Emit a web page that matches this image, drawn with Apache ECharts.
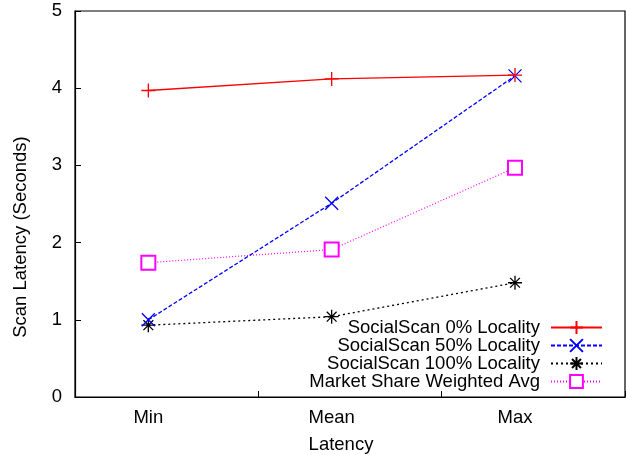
<!DOCTYPE html>
<html lang="en" style="height: 100%">
<head>
  <meta charset="utf-8">
</head>
<body style="height: 100%; margin: 0; background: #fff">
<div id="container" style="width: 626px; height: 455px"></div>

<script type="text/javascript" src="https://fastly.jsdelivr.net/npm/echarts@6/dist/echarts.min.js"></script>
<script type="text/javascript">
  // latency categories, placed at these x positions on a 0..3 axis
  var categories = ['Min', 'Mean', 'Max'];
  var xPositions = [0.4, 1.4, 2.4];

  var seriesNames = [
    'SocialScan 0% Locality',
    'SocialScan 50% Locality',
    'SocialScan 100% Locality',
    'Market Share Weighted Avg'
  ];
  var locality0 = [3.97, 4.12, 4.17];
  var locality50 = [1.0, 2.51, 4.16];
  var locality100 = [0.93, 1.04, 1.48];
  var marketAvg = [1.74, 1.91, 2.97];

  var yTicks = [0, 1, 2, 3, 4, 5];

  function pts(vals) {
    return vals.map(function (v, i) { return [xPositions[i], v]; });
  }

  var font = 'Liberation Sans, Arial, Helvetica, sans-serif';
  var fs = 18.5;

  var dom = document.getElementById('container');
  var myChart = echarts.init(dom, null, { renderer: 'canvas' });

  var option = {
    backgroundColor: '#fff',
    animation: false,
    grid: { left: 75, right: 1, top: 11, bottom: 58, outerBoundsMode: 'none' },
    legend: {
      orient: 'vertical',
      right: 18,
      top: 313,
      align: 'right',
      itemWidth: 51,
      itemHeight: 16,
      itemGap: -1,
      textStyle: { fontFamily: font, fontSize: fs, color: '#000', padding: [0, 6, 0, 0] },
      data: seriesNames
    },
    xAxis: {
      type: 'value',
      min: 0,
      max: 3,
      interval: 1,
      name: 'Latency',
      nameLocation: 'middle',
      nameGap: 38,
      nameTextStyle: { fontFamily: font, fontSize: fs, color: '#000', padding: [0, 18, 0, 0] },
      axisLine: { lineStyle: { color: '#000', width: 1.2 } },
      axisTick: { inside: true, length: 6, lineStyle: { color: '#000' } },
      splitLine: { show: false },
      axisLabel: {
        customValues: xPositions,
        fontFamily: font,
        fontSize: fs,
        color: '#000',
        margin: 11,
        formatter: function (v) {
          var i = xPositions.indexOf(Math.round(v * 10) / 10);
          return i >= 0 ? categories[i] : '';
        }
      }
    },
    yAxis: {
      type: 'value',
      min: 0,
      max: 5,
      interval: 1,
      name: 'Scan Latency (Seconds)',
      nameLocation: 'middle',
      nameGap: 45,
      nameTextStyle: { fontFamily: font, fontSize: fs, color: '#000', padding: [0, 66, 0, 0] },
      axisLine: { show: true, lineStyle: { color: '#000', width: 1.2 } },
      axisTick: { show: true, inside: true, length: 6, lineStyle: { color: '#000' } },
      splitLine: { show: false },
      axisLabel: {
        customValues: yTicks,
        fontFamily: font,
        fontSize: fs,
        color: '#000',
        margin: 13
      }
    },
    graphic: [{
      type: 'rect',
      shape: { x: 75, y: 11, width: 550, height: 386 },
      style: { fill: 'none', stroke: '#000', lineWidth: 1.2 },
      silent: true,
      z: 0
    }],
    series: [
      {
        name: seriesNames[0],
        type: 'line',
        data: pts(locality0),
        symbol: 'path://M0,5L10,5M5,0L5,10',
        symbolSize: 14,
        lineStyle: { color: '#ff0000', width: 1.3, type: 'solid' },
        itemStyle: { color: '#ff0000', borderColor: '#ff0000', borderWidth: 1.3 },
        z: 4
      },
      {
        name: seriesNames[1],
        type: 'line',
        data: pts(locality50),
        symbol: 'path://M0,0L10,10M10,0L0,10',
        symbolSize: 13,
        lineStyle: { color: '#0000ff', width: 1.3, type: [4, 2] },
        itemStyle: { color: '#0000ff', borderColor: '#0000ff', borderWidth: 1.3 },
        z: 3
      },
      {
        name: seriesNames[2],
        type: 'line',
        data: pts(locality100),
        symbol: 'path://M0,5L10,5M5,0L5,10M1.5,1.5L8.5,8.5M8.5,1.5L1.5,8.5',
        symbolSize: 14,
        lineStyle: { color: '#000000', width: 1.3, type: [2, 3] },
        itemStyle: { color: '#000000', borderColor: '#000000', borderWidth: 1.3 },
        z: 2
      },
      {
        name: seriesNames[3],
        type: 'line',
        data: pts(marketAvg),
        symbol: 'emptyRect',
        symbolSize: 14,
        lineStyle: { color: '#ff00ff', width: 1.2, type: [1, 2] },
        itemStyle: { color: '#ff00ff', borderColor: '#ff00ff', borderWidth: 1.5 },
        z: 1
      }
    ]
  };

  myChart.setOption(option);
  window.addEventListener('resize', myChart.resize);
</script>
</body>
</html>
